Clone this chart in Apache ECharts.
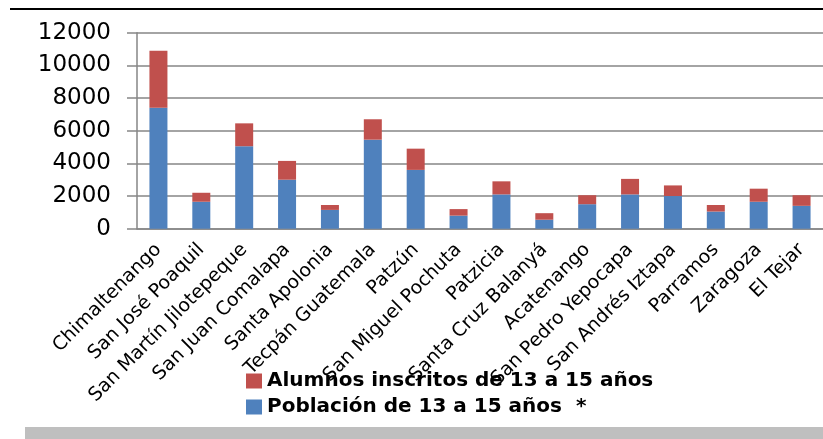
<!DOCTYPE html>
<html>
<head>
<meta charset="utf-8">
<script src="https://cdn.jsdelivr.net/npm/echarts@6/dist/echarts.min.js"></script>
<style>
  html, body { margin: 0; padding: 0; background: #fff; }
  #chart { width: 823px; height: 439px; }
</style>
</head>
<body>
<div id="chart"></div>
<script>
const municipios = [
  'Chimaltenango', 'San José Poaquil', 'San Martín Jilotepeque', 'San Juan Comalapa',
  'Santa Apolonia', 'Tecpán Guatemala', 'Patzún', 'San Miguel Pochuta',
  'Patzicia', 'Santa Cruz Balanyá', 'Acatenango', 'San Pedro Yepocapa',
  'San Andrés Iztapa', 'Parramos', 'Zaragoza', 'El Tejar'
];
// Población de 13 a 15 años (parte inferior)
const poblacion = [7400, 1650, 5050, 3000, 1150, 5450, 3600, 800, 2100, 550, 1500, 2100, 2000, 1050, 1650, 1400];
// Alumnos inscritos (parte superior del apilado)
const alumnos = [3500, 550, 1400, 1150, 300, 1250, 1300, 400, 800, 400, 550, 950, 650, 400, 800, 650];
const yTicks = { min: 0, max: 12000, interval: 2000 };

const serieAlumnos = 'Alumnos inscritos de 13 a 15 años';
const seriePoblacion = 'Población de 13 a 15 años  *';

const chart = echarts.init(document.getElementById('chart'));
const gris = '#868686';

chart.setOption({
  backgroundColor: '#fff',
  animation: false,
  textStyle: { fontFamily: 'DejaVu Sans' },
  grid: { left: 137, top: 32.7, width: 688, height: 196, containLabel: false },
  graphic: [
    { type: 'rect', shape: { x: 10, y: 8, width: 813, height: 2 }, style: { fill: '#000' } },
    { type: 'rect', shape: { x: 25, y: 427, width: 798, height: 12 }, style: { fill: '#bfbfbf' } }
  ],
  legend: {
    data: [serieAlumnos, seriePoblacion],
    orient: 'vertical',
    left: 241,
    top: 366,
    itemWidth: 16,
    itemHeight: 15,
    itemGap: 6,
    icon: 'rect',
    textStyle: { fontFamily: 'DejaVu Sans', fontWeight: 'bold', fontSize: 20, color: '#000' }
  },
  xAxis: {
    type: 'category',
    data: municipios,
    axisLine: { lineStyle: { color: gris, width: 1.5 } },
    axisTick: { length: 7, lineStyle: { color: gris, width: 1.5 } },
    axisLabel: { rotate: 45, fontSize: 19, color: '#000', margin: 18, interval: 0 }
  },
  yAxis: {
    type: 'value',
    min: yTicks.min,
    max: yTicks.max,
    interval: yTicks.interval,
    axisLine: { show: true, lineStyle: { color: gris, width: 1.5 } },
    axisTick: { show: true, length: 10, lineStyle: { color: gris, width: 1.5 } },
    axisLabel: { fontSize: 23, color: '#000', margin: 26, formatter: v => String(v) },
    splitLine: { lineStyle: { color: gris, width: 1.5 } }
  },
  series: [
    {
      name: seriePoblacion,
      type: 'bar',
      stack: 'total',
      barWidth: 18,
      data: poblacion,
      itemStyle: { color: '#4F81BD' }
    },
    {
      name: serieAlumnos,
      type: 'bar',
      stack: 'total',
      barWidth: 18,
      data: alumnos,
      itemStyle: { color: '#C0504D' }
    }
  ]
});
</script>
</body>
</html>
